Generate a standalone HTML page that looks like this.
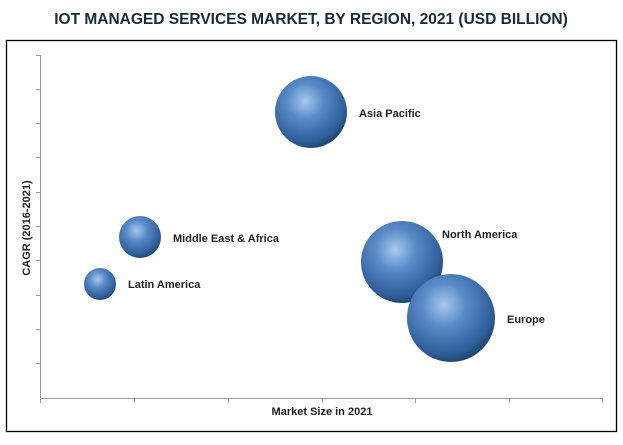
<!DOCTYPE html>
<html><head><meta charset="utf-8"><style>
body{margin:0;background:#fff;width:623px;height:440px;overflow:hidden}
</style></head><body>
<svg width="623" height="440" xmlns="http://www.w3.org/2000/svg">
<defs>
<radialGradient id="g" cx="0.42" cy="0.35" r="0.7">
<stop offset="0" stop-color="#a9c8ee"/>
<stop offset="0.35" stop-color="#5b8cc9"/>
<stop offset="0.8" stop-color="#2e5e98"/>
<stop offset="1" stop-color="#1c3b63"/>
</radialGradient>
</defs>
<text x="311" y="24" text-anchor="middle" font-family="Liberation Sans, sans-serif" font-size="15.5" font-weight="bold" fill="#1a2a3a">IOT MANAGED SERVICES MARKET, BY REGION, 2021 (USD BILLION)</text>
<rect x="6.5" y="40.5" width="610" height="391" fill="none" stroke="#000" stroke-width="1.3"/>
<g stroke="#999" stroke-width="1">
<line x1="40.5" y1="55" x2="40.5" y2="398"/>
<line x1="40" y1="398.5" x2="603" y2="398.5"/>
<g>
<line x1="36" y1="55.5" x2="40" y2="55.5"/><line x1="36" y1="89.5" x2="40" y2="89.5"/><line x1="36" y1="123.5" x2="40" y2="123.5"/><line x1="36" y1="157.5" x2="40" y2="157.5"/><line x1="36" y1="192.5" x2="40" y2="192.5"/><line x1="36" y1="226.5" x2="40" y2="226.5"/><line x1="36" y1="260.5" x2="40" y2="260.5"/><line x1="36" y1="295.5" x2="40" y2="295.5"/><line x1="36" y1="329.5" x2="40" y2="329.5"/><line x1="36" y1="363.5" x2="40" y2="363.5"/>
<line x1="40.5" y1="398" x2="40.5" y2="403"/><line x1="134.5" y1="398" x2="134.5" y2="403"/><line x1="228.5" y1="398" x2="228.5" y2="403"/><line x1="322.5" y1="398" x2="322.5" y2="403"/><line x1="415.5" y1="398" x2="415.5" y2="403"/><line x1="509.5" y1="398" x2="509.5" y2="403"/><line x1="602.5" y1="398" x2="602.5" y2="403"/>
</g></g>
<text x="322" y="415" text-anchor="middle" font-family="Liberation Sans, sans-serif" font-size="11" font-weight="bold" fill="#222">Market Size in 2021</text>
<text transform="translate(30,228) rotate(-90)" text-anchor="middle" font-family="Liberation Sans, sans-serif" font-size="11" font-weight="bold" fill="#222">CAGR (2016-2021)</text>
<circle cx="311" cy="112" r="36" fill="url(#g)"/>
<circle cx="140" cy="237" r="21" fill="url(#g)"/>
<circle cx="100" cy="284" r="16" fill="url(#g)"/>
<circle cx="402" cy="262" r="41" fill="url(#g)"/>
<circle cx="451" cy="318" r="44" fill="url(#g)"/>
<g font-family="Liberation Sans, sans-serif" font-size="11" font-weight="bold" fill="#222">
<text x="359" y="117">Asia Pacific</text>
<text x="173" y="242">Middle East &amp; Africa</text>
<text x="128" y="288">Latin America</text>
<text x="442" y="238">North America</text>
<text x="507" y="323">Europe</text>
</g>
</svg>
</body></html>
